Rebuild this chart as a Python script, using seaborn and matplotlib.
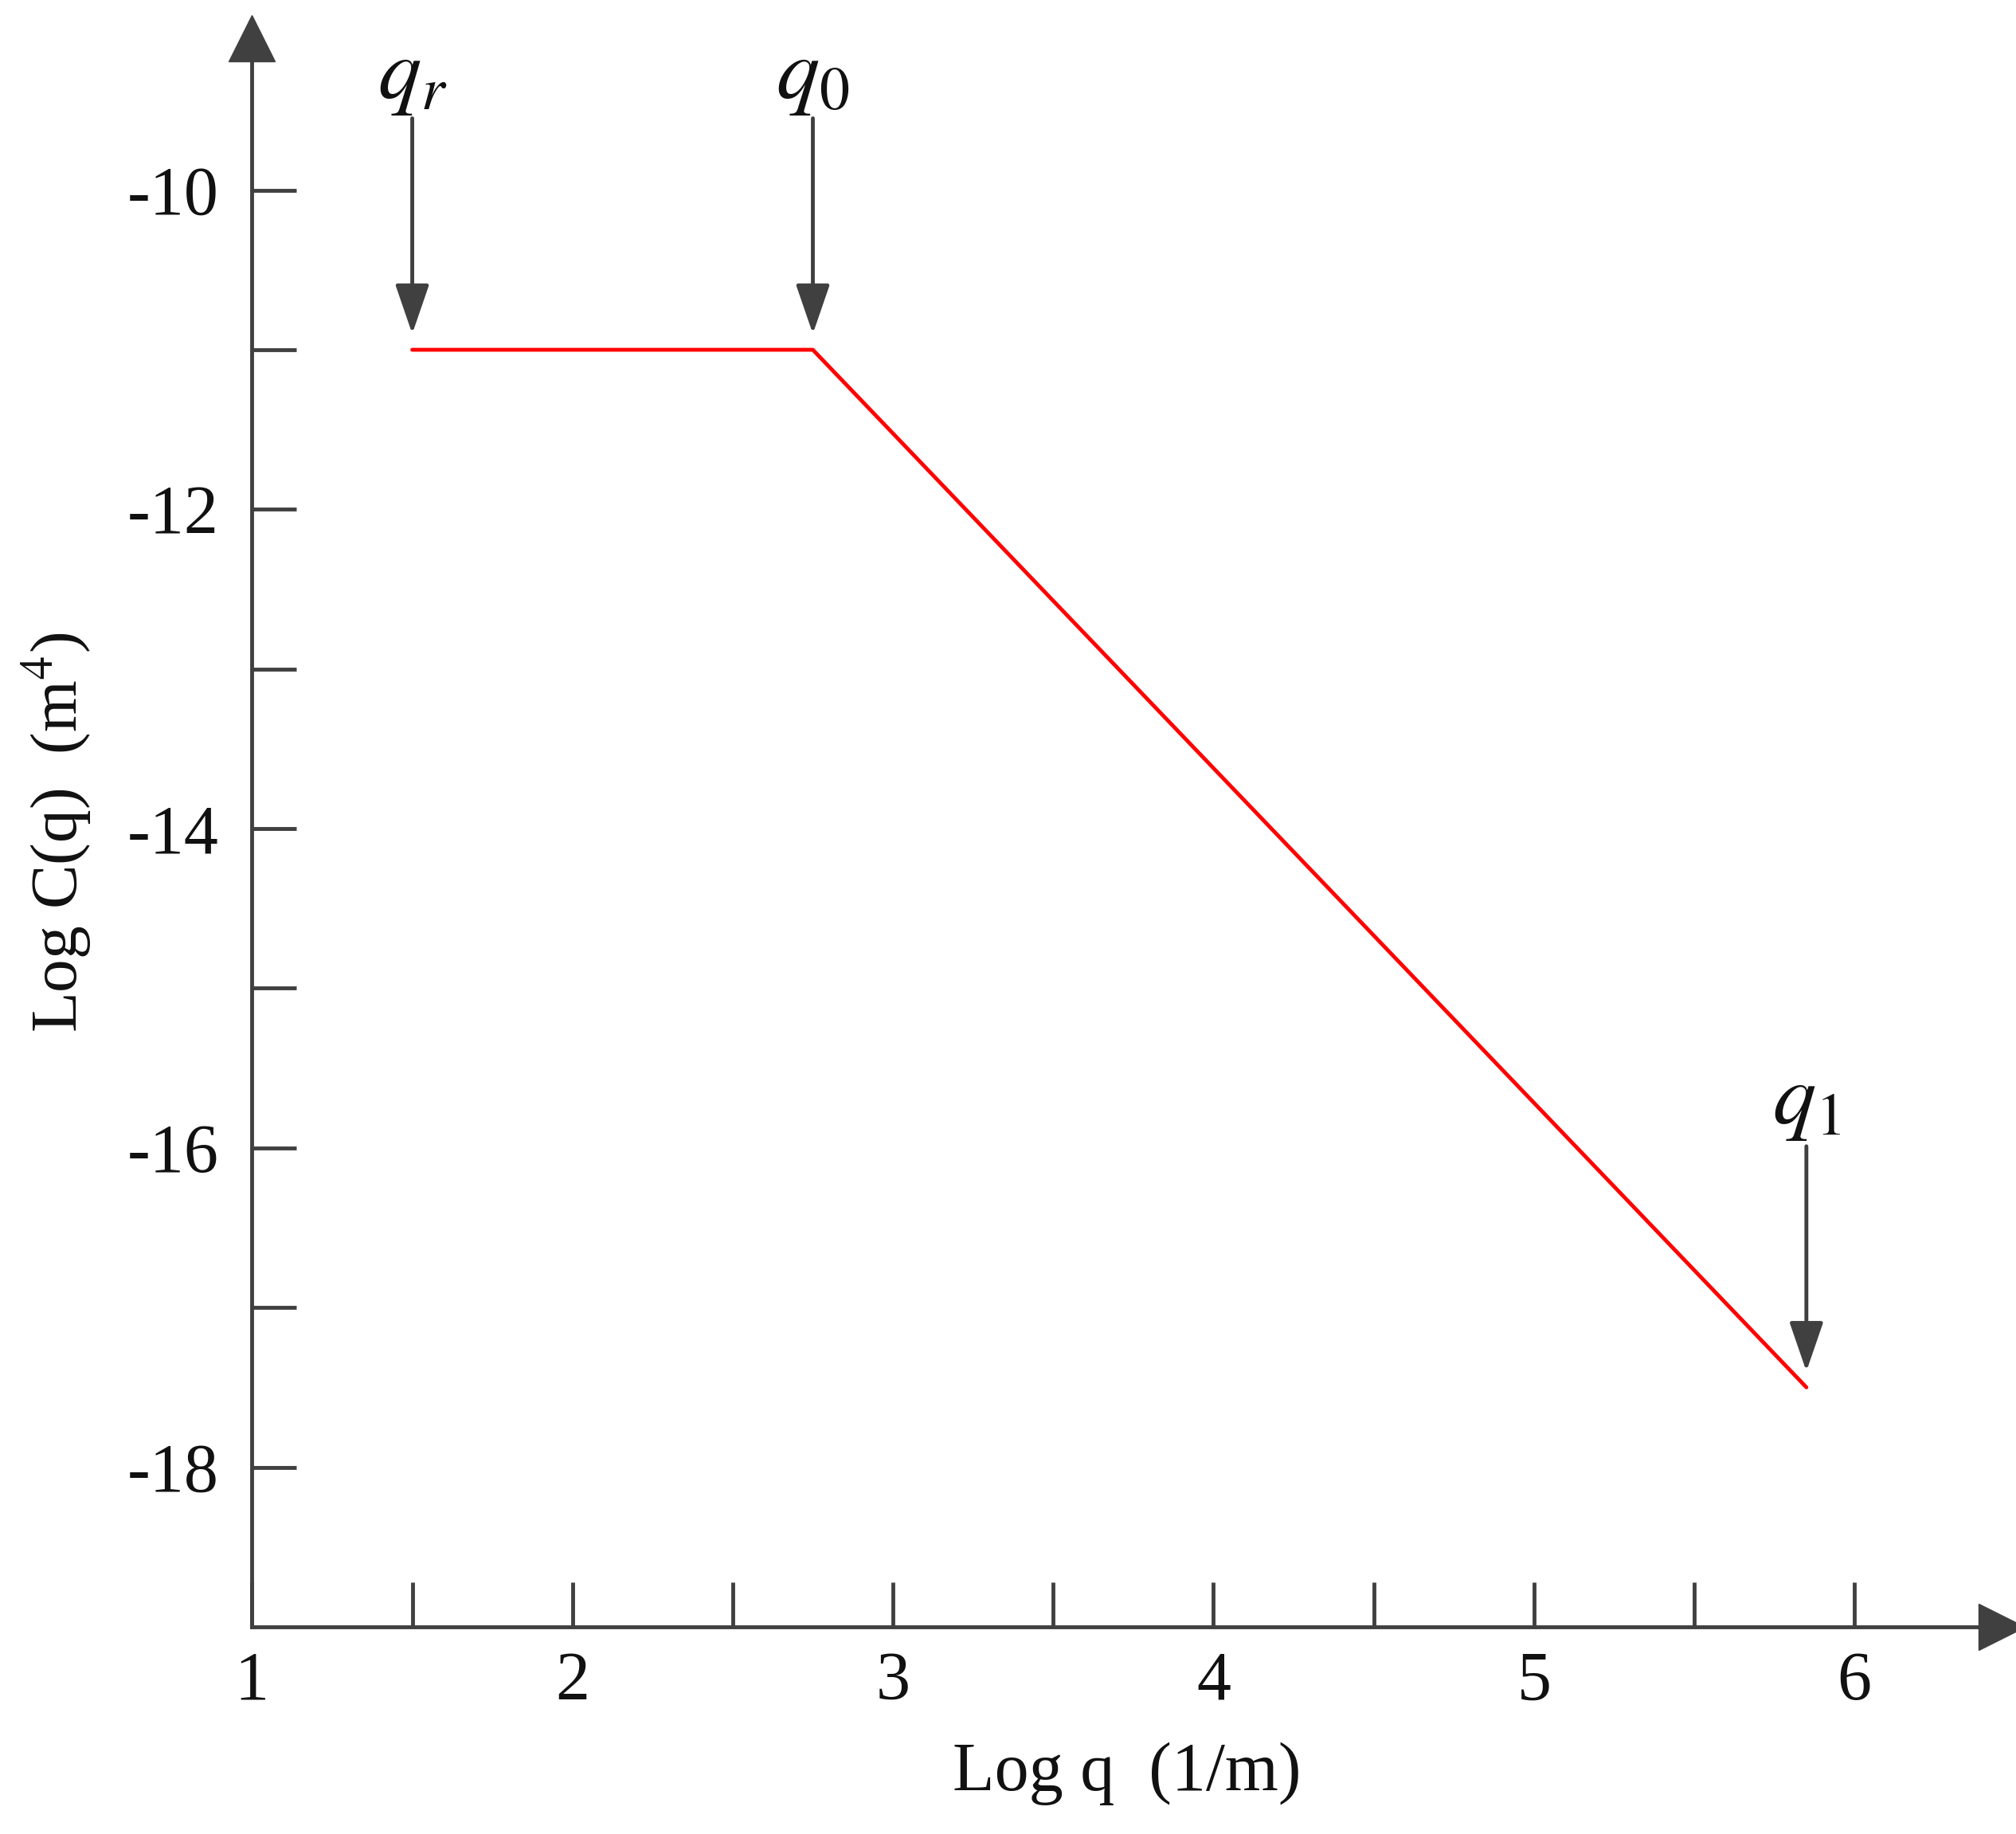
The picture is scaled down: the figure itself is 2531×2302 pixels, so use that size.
import matplotlib.pyplot as plt
import seaborn as sns
import pandas as pd

log_q = [1.5, 2.75, 5.85]
log_c = [-11.0, -11.0, -17.5]
arrow_labels = [r"$q_r$", r"$q_0$", r"$q_1$"]
arrow_x = [1.5, 2.75, 5.85]
arrow_top = [-9.55, -9.55, -15.99]
arrow_tip = [-10.9, -10.9, -17.4]
label_y = [-9.3, -9.3, -15.72]

sns.set_theme(style="white")
plt.rcParams['font.family'] = ['Liberation Serif', 'DejaVu Serif']
plt.rcParams['mathtext.fontset'] = 'stix'
plt.rcParams['xtick.bottom'] = True
plt.rcParams['ytick.left'] = True
dark = "#404040"

fig = plt.figure(figsize=(25.31, 23.02), dpi=100)
ax = fig.add_axes([0.125, 0.113, 0.868, 0.866])
df = pd.DataFrame({"x": log_q, "y": log_c})
sns.lineplot(data=df, x="x", y="y", ax=ax, color="#ff0000", linewidth=3.5)

ax.set_xlim(1, 6.46)
ax.set_ylim(-19, -9.05)
for s in ["top", "right"]:
    ax.spines[s].set_visible(False)
for s in ["left", "bottom"]:
    ax.spines[s].set_color(dark)
    ax.spines[s].set_linewidth(3.5)

ax.set_xticks([1, 2, 3, 4, 5, 6])
ax.set_xticks([1.5, 2.5, 3.5, 4.5, 5.5], minor=True)
ax.set_yticks([-18, -16, -14, -12, -10])
ax.set_yticks([-17, -15, -13, -11], minor=True)
ax.set_yticklabels(["-18", "-16", "-14", "-12", "-10"])
ax.tick_params(which="both", bottom=True, left=True, direction="in", length=40,
               width=3.5, color=dark, labelsize=62, labelcolor="#111111", pad=22)
ax.tick_params(axis="y", which="both", pad=30)

# axis arrows
ax.plot(0, 1, marker="^", markersize=42, color=dark, transform=ax.transAxes, clip_on=False)
ax.plot(1, 0, marker=">", markersize=42, color=dark, transform=ax.transAxes, clip_on=False)

for lab, x, top, tip, ly in zip(arrow_labels, arrow_x, arrow_top, arrow_tip, label_y):
    ax.annotate("", xy=(x, tip), xytext=(x, top),
                arrowprops=dict(arrowstyle="-|>,head_length=3.2,head_width=1.1",
                                color=dark, lw=3.5, shrinkA=0, shrinkB=0))
    ax.text(x, ly, lab, fontsize=78, ha="center", va="center", color="#111111")

ax.set_xlabel("Log q  (1/m)", fontsize=62, color="#111111", labelpad=25)
ax.set_ylabel(r"Log C(q)  (m$^4$)", fontsize=60, color="#111111", labelpad=30)

fig.savefig("out.png", dpi=100)
